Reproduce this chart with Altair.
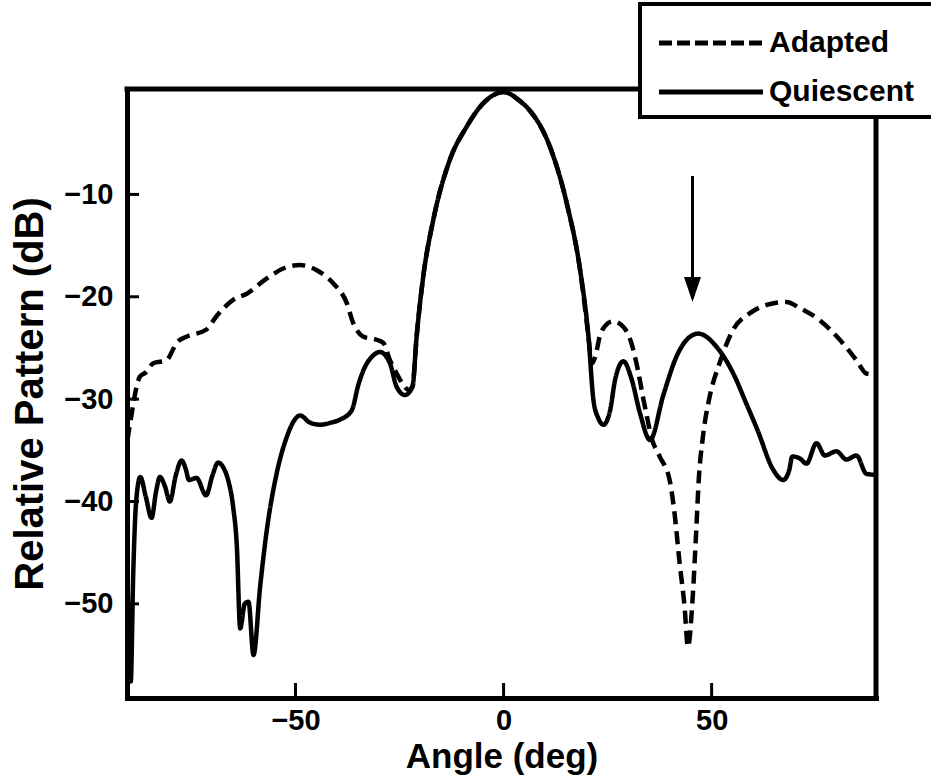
import altair as alt
import pandas as pd

# Quiescent (unadapted) pattern, angle in degrees and level in dB
quiescent_angle = [
    -90.4, -89.6, -89.0, -88.3, -87.3, -86.0, -84.6, -83.5, -82.6, -81.4,
    -80.2, -78.8, -77.4, -76.4, -75.6, -73.8, -71.5, -70.0, -68.6, -67.2,
    -66.2, -65.0, -64.1, -63.3, -62.2, -61.3, -60.1, -58.5, -56.9, -54.5,
    -52.1, -50.5, -48.9, -46.5, -44.1, -41.5, -39.3, -36.5, -34.9, -33.7,
    -31.5, -29.7, -27.3, -25.7, -23.7, -21.9, -20.9, -19.3, -16.9, -12.9,
    -8.9, -4.9, 0.0, 4.0, 6.3, 11.1, 15.2, 18.4, 20.4, 21.6,
    22.8, 24.0, 25.6, 26.8, 28.8, 30.8, 32.8, 35.2, 38.4, 41.6,
    44.0, 46.8, 51.2, 55.2, 58.4, 61.0, 64.8, 67.2, 68.6, 69.4,
    71.2, 72.8, 75.2, 77.2, 80.0, 82.4, 84.8, 87.2, 89.5,
]
quiescent_db = [
    -47.0, -57.6, -47.0, -40.0, -37.6, -39.5, -41.6, -39.0, -37.6, -38.5,
    -40.0, -37.5, -36.0, -36.8, -37.9, -37.7, -39.4, -37.5, -36.2, -36.8,
    -37.9, -40.5, -44.4, -52.4, -50.0, -49.8, -55.0, -48.3, -42.8, -37.2,
    -33.7, -32.2, -31.6, -32.3, -32.5, -32.3, -32.0, -31.1, -28.6, -27.2,
    -25.8, -25.4, -26.5, -28.8, -29.6, -28.8, -23.9, -18.0, -12.5, -6.6,
    -3.4, -1.1, 0.0, -0.9, -1.8, -5.3, -10.9, -17.4, -23.9, -30.1,
    -31.9, -32.5, -31.1, -28.1, -26.3, -28.1, -31.4, -34.0, -29.6, -25.8,
    -24.2, -23.6, -24.9, -27.5, -30.5, -33.0, -36.9, -37.9, -37.0, -35.6,
    -35.8, -36.3, -34.3, -35.5, -35.1, -35.9, -35.5, -37.3, -37.4,
]

# Adapted pattern with the null steered onto the interference direction
adapted_angle = [
    -90.4, -89.4, -88.2, -87.4, -86.0, -84.2, -81.0, -79.5, -78.6, -76.2,
    -71.4, -69.0, -65.0, -61.7, -56.9, -52.1, -48.9, -44.9, -40.9, -37.7,
    -36.1, -33.7, -30.5, -28.9, -27.3, -25.7, -24.1, -22.9, -21.9, -20.9,
    -19.3, -16.9, -12.9, -8.9, -4.9, 0.0, 4.0, 6.3, 11.1, 15.2,
    18.4, 20.4, 21.2, 22.0, 23.1, 24.5, 26.3, 28.7, 30.7, 32.3,
    33.5, 34.3, 35.5, 37.5, 39.9, 41.1, 42.3, 43.5, 44.3, 45.5,
    46.3, 46.9, 47.9, 49.5, 51.9, 55.2, 59.2, 63.2, 68.0, 71.2,
    76.0, 80.8, 84.8, 87.2, 89.5,
]
adapted_db = [
    -34.0, -31.5, -28.8, -27.8, -27.4, -26.5, -26.2, -25.2, -24.5, -23.9,
    -23.2, -21.9, -20.3, -19.7, -18.2, -17.1, -16.9, -17.4, -18.7, -20.6,
    -22.6, -23.9, -24.2, -24.5, -26.2, -27.5, -28.6, -29.1, -28.8, -23.9,
    -18.0, -12.5, -6.6, -3.4, -1.1, 0.0, -0.9, -1.8, -5.3, -10.9,
    -17.4, -23.9, -26.5, -25.9, -23.9, -22.8, -22.4, -22.9, -24.5, -27.2,
    -29.8, -31.4, -33.7, -35.6, -37.9, -41.2, -46.0, -50.3, -54.2, -49.0,
    -42.8, -37.9, -33.7, -29.8, -26.5, -23.2, -21.6, -20.8, -20.5, -21.1,
    -22.3, -24.2, -26.2, -27.5, -27.6,
]

series_names = ["Adapted", "Quiescent"]
x_ticks = [-50, 0, 50]
y_ticks = [-10, -20, -30, -40, -50]

# Interference direction marker (angle, arrow top and tip in dB)
arrow_angle = [45.4]
arrow_top = [-8.2]
arrow_tip = [-20.5]

W, H = 749, 609
FONT = "Liberation Sans"

df = pd.concat([
    pd.DataFrame({"angle": adapted_angle, "db": adapted_db, "series": series_names[0]}),
    pd.DataFrame({"angle": quiescent_angle, "db": quiescent_db, "series": series_names[1]}),
], ignore_index=True)

x_scale = alt.Scale(domain=[-90.5, 89.5], nice=False, zero=False)
y_scale = alt.Scale(domain=[-59.2, 0.3], nice=False, zero=False)

x_axis = alt.Axis(
    values=x_ticks, ticks=False, tickSize=0, grid=False,
    domainWidth=5, domainColor="black", domainCap="square",
    labelFont=FONT, labelFontSize=29, labelFontWeight="bold", labelColor="black",
    labelPadding=8, labelFlush=False,
    title="Angle (deg)", titleFont=FONT, titleFontSize=35, titleFontWeight="bold",
    titleColor="black", titleY=69, titleBaseline="alphabetic",
)
y_axis = alt.Axis(
    values=y_ticks, ticks=False, tickSize=0, grid=False,
    domainWidth=5, domainColor="black", domainCap="square",
    labelFont=FONT, labelFontSize=29, labelFontWeight="bold", labelColor="black",
    labelPadding=14, labelFlush=False,
    title="Relative Pattern (dB)", titleFont=FONT, titleFontSize=40, titleFontWeight="bold",
    titleColor="black", titleX=-85, titleBaseline="alphabetic",
)

lines = alt.Chart(df).mark_line(
    color="black", strokeWidth=4.5, interpolate="monotone"
).encode(
    x=alt.X("angle:Q", scale=x_scale, axis=x_axis),
    y=alt.Y("db:Q", scale=y_scale, axis=y_axis),
    strokeDash=alt.StrokeDash(
        "series:N",
        scale=alt.Scale(domain=series_names, range=[[13, 7], [1, 0]]),
        legend=None,
    ),
    detail="series:N",
)

# inward tick marks
y_tick_marks = alt.Chart(pd.DataFrame({"v": y_ticks})).mark_rule(
    color="black", strokeWidth=3
).encode(
    y=alt.Y("v:Q", scale=y_scale),
    x=alt.value(0),
    x2=alt.value(12),
)
x_tick_marks = alt.Chart(pd.DataFrame({"v": x_ticks})).mark_rule(
    color="black", strokeWidth=3
).encode(
    x=alt.X("v:Q", scale=x_scale),
    y=alt.value(H),
    y2=alt.value(H - 15),
)

# top and right edges of the frame
one = alt.Data(values=[{}])
top_edge = alt.Chart(one).mark_rule(color="black", strokeWidth=5, strokeCap="square").encode(
    x=alt.value(0), x2=alt.value(W), y=alt.value(0)
)
right_edge = alt.Chart(one).mark_rule(color="black", strokeWidth=5, strokeCap="square").encode(
    x=alt.value(W), y=alt.value(0), y2=alt.value(H)
)

arrow_df = pd.DataFrame({"angle": arrow_angle, "top": arrow_top, "tip": arrow_tip})
arrow_shaft = alt.Chart(arrow_df).mark_rule(color="black", strokeWidth=3, y2Offset=-12).encode(
    x=alt.X("angle:Q", scale=x_scale),
    y=alt.Y("top:Q", scale=y_scale),
    y2="tip:Q",
)
arrow_head = alt.Chart(arrow_df).mark_point(
    shape="M -0.68 -2 L 0.68 -2 L 0 0 Z", size=625, filled=True,
    color="black", opacity=1, strokeWidth=0,
).encode(
    x=alt.X("angle:Q", scale=x_scale),
    y=alt.Y("tip:Q", scale=y_scale),
)

# legend box in the upper right corner
legend_box = alt.Chart(one).mark_rect(fill="white", stroke="black", strokeWidth=4).encode(
    x=alt.value(513), x2=alt.value(830), y=alt.value(-85), y2=alt.value(28)
)
legend_dash = alt.Chart(one).mark_rule(color="black", strokeWidth=5, strokeDash=[13, 5]).encode(
    x=alt.value(532), x2=alt.value(636), y=alt.value(-46)
)
legend_solid = alt.Chart(one).mark_rule(color="black", strokeWidth=5).encode(
    x=alt.value(532), x2=alt.value(636), y=alt.value(3)
)
text_style = dict(font=FONT, fontSize=30, fontWeight="bold", color="black",
                  align="left", baseline="middle")
legend_text_a = alt.Chart(one).mark_text(**text_style).encode(
    x=alt.value(642), y=alt.value(-46), text=alt.value(series_names[0])
)
legend_text_q = alt.Chart(one).mark_text(**text_style).encode(
    x=alt.value(642), y=alt.value(3), text=alt.value(series_names[1])
)

chart = alt.layer(
    top_edge, right_edge, lines, y_tick_marks, x_tick_marks, arrow_shaft, arrow_head,
    legend_box, legend_dash, legend_solid, legend_text_a, legend_text_q,
).properties(
    width=W, height=H,
    autosize=alt.AutoSizeParams(type="none"),
    padding={"left": 127, "top": 89, "right": 55, "bottom": 83},
    background="white",
).configure_view(stroke=None)

chart.save("out.html", embed_options={"renderer": "svg", "actions": False})
